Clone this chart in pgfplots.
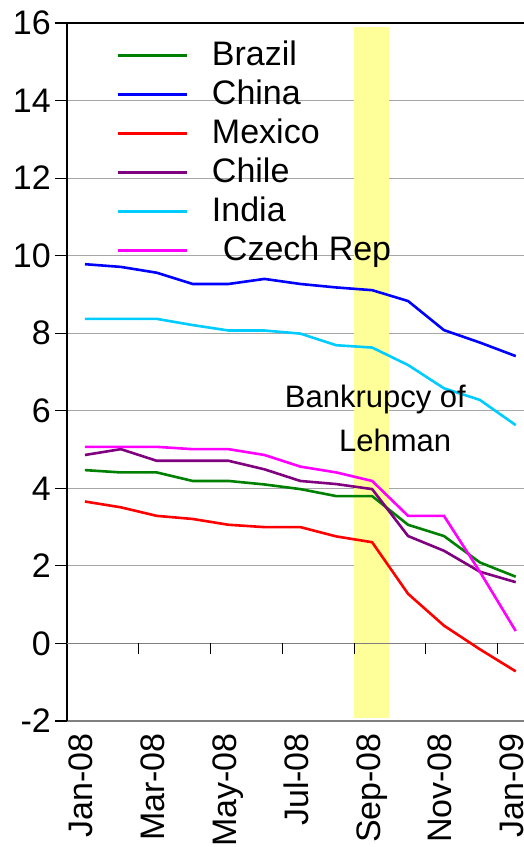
\documentclass[border=0pt]{standalone}
\usepackage{pgfplots}
\pgfplotsset{compat=1.18}
\usepackage{fontspec}
\setmainfont{Liberation Sans}
\definecolor{cbrazil}{HTML}{008000}
\definecolor{cchina}{HTML}{0000FF}
\definecolor{cmexico}{HTML}{FF0000}
\definecolor{cchile}{HTML}{800080}
\definecolor{cindia}{HTML}{00CCFF}
\definecolor{cczech}{HTML}{FF00FF}
\definecolor{cband}{HTML}{FFFF99}
\definecolor{cgrid}{HTML}{A6A6A6}
\definecolor{cdark}{HTML}{808080}
\begin{document}
\begin{tikzpicture}
\useasboundingbox (0,0) rectangle (524bp,847bp);
\begin{axis}[
  at={(67bp,126bp)}, anchor=south west,
  scale only axis, width=457bp, height=698bp,
  xmin=-0.5, xmax=12.23, ymin=-2, ymax=16,
  axis x line*=bottom, axis y line*=left,
  x axis line style={draw=cdark, line width=1.5bp, -},
  y axis line style={black, line width=1.2bp, -},
  xtick={0,2,...,12},
  xticklabels={Jan-08,Mar-08,May-08,Jul-08,Sep-08,Nov-08,Jan-09},
  xtick style={draw=none},
  ytick={-2,0,...,16},
  yticklabels={-2,0,2,4,6,8,10,12,14,16},
  ytick style={black, line width=1.2bp},
  tick align=outside, major tick length=12bp,
  ymajorgrids, major grid style={cgrid, line width=1.2bp},
  tick label style={font=\fontsize{34bp}{40bp}\selectfont},
  xticklabel style={rotate=90, anchor=east, inner sep=0pt, text height=16bp, text depth=0pt},
  yticklabel style={inner sep=0pt, xshift=-4bp},
  clip=false,
  legend cell align=left,
  legend style={draw=none, fill=none, at={(axis cs:0.87,15.59)}, anchor=north west,
    inner sep=0pt, row sep=6bp, column sep=24bp,
    font=\fontsize{34bp}{40bp}\selectfont,
    nodes={inner sep=0pt, text height=26bp, text depth=7bp}},
  legend image code/.code={\draw[#1] (0bp,0bp) -- (69bp,0bp);},
  every axis plot/.append style={line width=2.6bp, mark=none},
]
\fill[cband] (axis cs:7.5,-1.92) rectangle (axis cs:8.47,15.9);
\draw[cdark, line width=1.5bp] (axis cs:-0.5,0) -- (axis cs:12.23,0);
\pgfplotsinvokeforeach{1.5,3.5,5.5,7.5,9.5,11.5}{\draw[black, line width=1bp] (axis cs:#1,0) -- ([yshift=-11bp]axis cs:#1,0);}
\draw[black, line width=1.2bp] (axis cs:-0.5,16) -- (axis cs:12.23,16);
\addplot[cbrazil] coordinates {(0,4.47)(1,4.41)(2,4.41)(3,4.19)(4,4.19)(5,4.10)(6,3.98)(7,3.80)(8,3.80)(9,3.06)(10,2.77)(11,2.09)(12,1.72)};
\addlegendentry{Brazil}
\addplot[cchina] coordinates {(0,9.78)(1,9.71)(2,9.56)(3,9.27)(4,9.27)(5,9.40)(6,9.27)(7,9.18)(8,9.11)(9,8.83)(10,8.08)(11,7.76)(12,7.41)};
\addlegendentry{China}
\addplot[cmexico] coordinates {(0,3.66)(1,3.51)(2,3.29)(3,3.21)(4,3.06)(5,3.00)(6,3.00)(7,2.76)(8,2.61)(9,1.28)(10,0.46)(11,-0.15)(12,-0.72)};
\addlegendentry{Mexico}
\addplot[cchile] coordinates {(0,4.86)(1,5.01)(2,4.71)(3,4.71)(4,4.71)(5,4.49)(6,4.19)(7,4.11)(8,3.98)(9,2.77)(10,2.39)(11,1.85)(12,1.58)};
\addlegendentry{Chile}
\addplot[cindia] coordinates {(0,8.37)(1,8.37)(2,8.37)(3,8.21)(4,8.07)(5,8.07)(6,7.99)(7,7.69)(8,7.63)(9,7.18)(10,6.58)(11,6.28)(12,5.63)};
\addlegendentry{India}
\addplot[cczech] coordinates {(0,5.07)(1,5.07)(2,5.07)(3,5.01)(4,5.01)(5,4.86)(6,4.56)(7,4.41)(8,4.19)(9,3.29)(10,3.29)(11,1.85)(12,0.32)};
\addlegendentry{\hspace{11bp}Czech Rep}
\node[anchor=base, inner sep=0pt, font=\fontsize{31bp}{36bp}\selectfont] at (axis cs:8.09,6.077) {Bankrupcy of};
\node[anchor=base, inner sep=0pt, font=\fontsize{31bp}{36bp}\selectfont] at (axis cs:8.64,4.94) {Lehman};
\end{axis}
\end{tikzpicture}
\end{document}
